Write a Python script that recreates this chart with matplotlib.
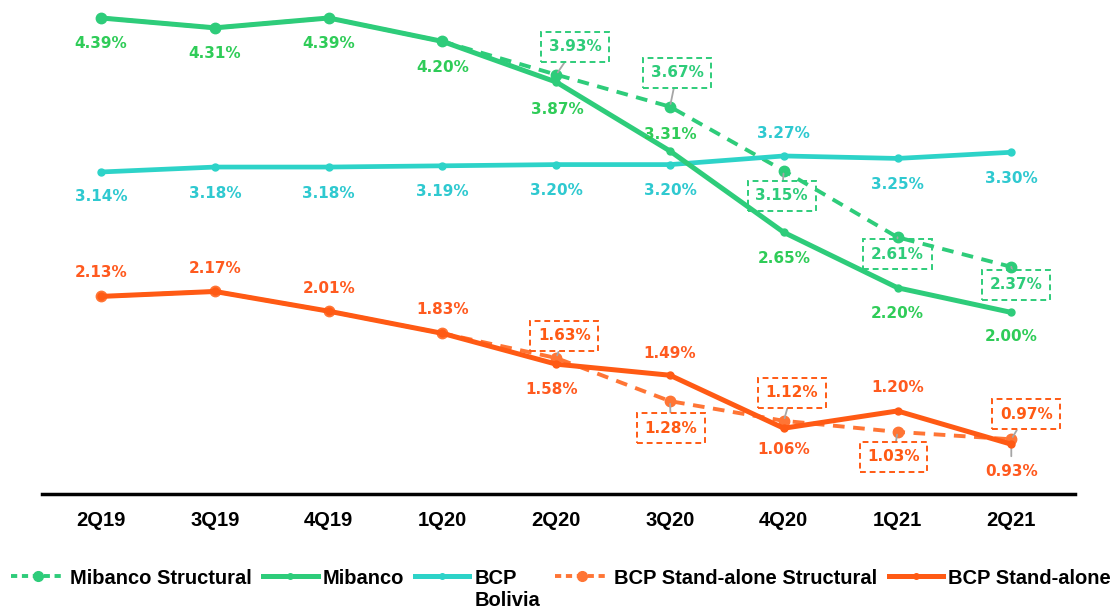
import matplotlib
matplotlib.use("Agg")
import matplotlib.pyplot as plt
from matplotlib.lines import Line2D

categories = ["2Q19", "3Q19", "4Q19", "1Q20", "2Q20", "3Q20", "4Q20", "1Q21", "2Q21"]
mibanco = [4.39, 4.31, 4.39, 4.20, 3.87, 3.31, 2.65, 2.20, 2.00]
mibanco_struct = [4.39, 4.31, 4.39, 4.20, 3.93, 3.67, 3.15, 2.61, 2.37]
bcp_bolivia = [3.14, 3.18, 3.18, 3.19, 3.20, 3.20, 3.27, 3.25, 3.30]
bcp_sa = [2.13, 2.17, 2.01, 1.83, 1.58, 1.49, 1.06, 1.20, 0.93]
bcp_sa_struct = [2.13, 2.17, 2.01, 1.83, 1.63, 1.28, 1.12, 1.03, 0.97]

# label offsets in pixels (dx, dy; dy positive = downward)
mib_off = [(0, 26), (0, 26), (0, 26), (0, 26), (1, 27), (0, -17), (0, 26), (0, 26), (0, 24)]
bol_off = [(0, 25), (0, 26), (0, 26), (0, 26), (0, 26), (0, 26), (0, -22), (0, 26), (0, 26)]
sa_off = [(0, -24), (0, -23), (0, -23), (0, -24), (-5, 25), (0, -22), (0, 21), (0, -23), (0, 27)]
mibs_off = {4: (19, -28), 5: (7, -34), 6: (-2, 25), 7: (0, 17), 8: (5, 18)}
sas_off = {4: (8, -22), 5: (1, 27), 6: (8, -28), 7: (-4, 25), 8: (15, -25)}

GREEN = "#2ECC7A"
GREEN_T = "#2FCC58"
CYAN = "#2DD3C8"
CYAN_T = "#2FC9D0"
ORANGE = "#FF5A14"
ORANGE_D = "#FF7535"
ORANGE_T = "#FF5A1F"
GRAY = "#A6A6A6"

fig = plt.figure(figsize=(11.2, 6.1), dpi=100)
ax = fig.add_axes([42 / 1120, 1 - 494 / 610, (1075 - 42) / 1120, 494 / 610])
x = list(range(len(categories)))

ax.plot(x, mibanco_struct, color=GREEN, lw=2.8, ls=(0, (3, 2.2)), marker="o", ms=7.5, zorder=3)
ax.plot(x, mibanco, color=GREEN, lw=3.6, marker="o", ms=5, zorder=4)
ax.plot(x, bcp_bolivia, color=CYAN, lw=3.4, marker="o", ms=5, zorder=3)
ax.plot(x, bcp_sa_struct, color=ORANGE_D, lw=2.8, ls=(0, (3, 2.2)), marker="o", ms=7.5, zorder=3)
ax.plot(x, bcp_sa, color=ORANGE, lw=3.6, marker="o", ms=5, zorder=4)

ax.set_xlim(-0.52, 8.56)
ax.set_ylim(0.526, 4.536)
ax.set_yticks([])
ax.set_xticks(x)
ax.set_xticklabels(categories, fontsize=14.5, fontweight="bold", family="Liberation Sans")
ax.tick_params(axis="x", length=0, pad=12)
for s in ["top", "right", "left"]:
    ax.spines[s].set_visible(False)
ax.spines["bottom"].set_linewidth(2.5)
ax.spines["bottom"].set_color("black")

PX = 0.72  # points per pixel
lab_font = dict(fontsize=11, fontweight="bold", family="DejaVu Sans", ha="center", va="center")


def plain_labels(vals, offs, color):
    for i, v in enumerate(vals):
        dx, dy = offs[i]
        ax.annotate(f"{v:.2f}%", (i, v), xytext=(dx * PX, -dy * PX), textcoords="offset points",
                    color=color, zorder=6, **lab_font)


def boxed_labels(vals, offs, color):
    for i, (dx, dy) in offs.items():
        v = vals[i]
        ax.annotate(f"{v:.2f}%", (i, v), xytext=(dx * PX, -dy * PX), textcoords="offset points",
                    color=color, zorder=7,
                    bbox=dict(boxstyle="square,pad=0.5", fc="none", ec=color, ls=(0, (3, 2)), lw=1.4),
                    arrowprops=dict(arrowstyle="-", color=GRAY, lw=1.3, shrinkA=0, shrinkB=2),
                    **lab_font)


plain_labels(mibanco, mib_off, GREEN_T)
plain_labels(bcp_bolivia, bol_off, CYAN_T)
plain_labels(bcp_sa, sa_off, ORANGE_T)
boxed_labels(mibanco_struct, mibs_off, GREEN)
boxed_labels(bcp_sa_struct, sas_off, ORANGE)

# small gray leader under last stand-alone label
ax.annotate("", (8, bcp_sa[8]), xytext=(0, -12 * PX), textcoords="offset points",
            arrowprops=dict(arrowstyle="-", color=GRAY, lw=1.3, shrinkA=0, shrinkB=3))

legend_names = ["Mibanco Structural", "Mibanco", "BCP", "BCP Stand-alone Structural", "BCP Stand-alone"]
handles = [
    Line2D([], [], color=GREEN, lw=2.8, ls=(0, (1.6, 1.2)), marker="o", ms=7),
    Line2D([], [], color=GREEN, lw=3.6, marker="o", ms=4),
    Line2D([], [], color=CYAN, lw=3.6, marker="o", ms=4),
    Line2D([], [], color=ORANGE_D, lw=2.8, ls=(0, (1.6, 1.2)), marker="o", ms=7),
    Line2D([], [], color=ORANGE, lw=3.6, marker="o", ms=4),
]
LEG_SIZE = 14.5
leg_kw = dict(frameon=False, handlelength=2.7, handletextpad=0.25, columnspacing=0.55,
              borderaxespad=0, borderpad=0,
              prop=dict(family="Liberation Sans", weight="bold", size=LEG_SIZE))
leg_y = 1 - 578 / 610
leg1 = fig.legend(handles[:3], legend_names[:3], loc="center left",
                  bbox_to_anchor=(11 / 1120, leg_y), ncol=3, **leg_kw)
leg2 = fig.legend(handles[3:], legend_names[3:], loc="center left",
                  bbox_to_anchor=(555 / 1120, leg_y), ncol=2, **leg_kw)

fig.canvas.draw()
bb = leg1.get_texts()[2].get_window_extent()
fig.text(bb.x0 / 1120, (bb.y0 - 22) / 610, "Bolivia", ha="left", va="bottom",
         family="Liberation Sans", weight="bold", size=LEG_SIZE)

fig.savefig("out.png", dpi=100)
